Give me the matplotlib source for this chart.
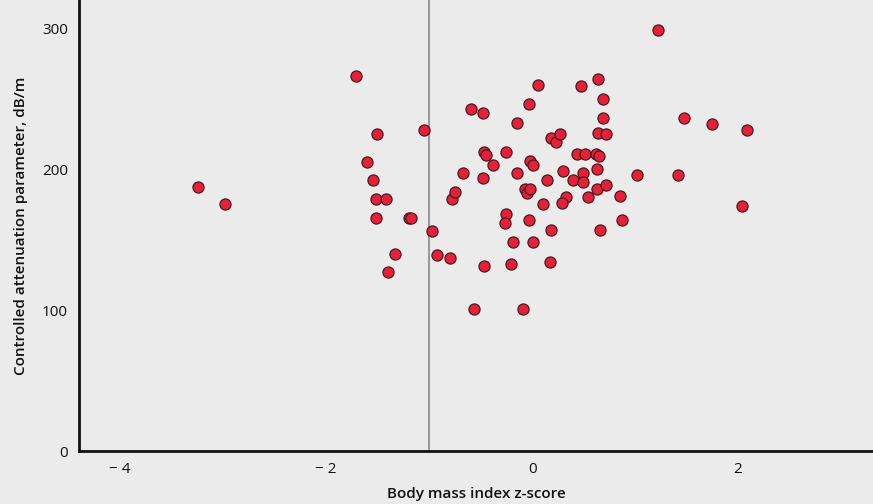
import numpy as np
import matplotlib.pyplot as plt

plt.rcParams['font.family'] = ['Open Sans', 'DejaVu Sans']

# Body mass index z-score
bmi_z = [-3.24, -2.98, -1.71, -1.51, -1.05, -1.60, -1.55, -1.52, -1.42, -1.52,
         -1.20, -1.18, -0.97, -1.33, -1.40, -0.92, -0.80, -0.78, -0.75, -0.67,
         -0.59, -0.48, -0.47, -0.45, -0.48, -0.38, -0.47, -0.56, -0.25, -0.25,
         -0.26, -0.19, -0.21, -0.15, -0.15, -0.09, -0.03, 0.06, -0.07, -0.05,
         -0.02, -0.02, 0.01, -0.03, 0.01, 0.11, 0.14, 0.18, 0.17, 0.18,
         0.23, 0.27, 0.30, 0.33, 0.29, 0.44, 0.51, 0.47, 0.40, 0.49,
         0.49, 0.54, 0.62, 0.65, 0.64, 0.69, 0.69, 0.64, 0.72, 0.63,
         0.63, 0.72, 0.66, 0.85, 0.87, 1.02, 1.22, 1.42, 1.47, 1.75,
         2.09, 2.04]

# Controlled attenuation parameter, dB/m
cap = [187, 175, 266, 225, 228, 205, 192, 179, 179, 165,
       165, 165, 156, 140, 127, 139, 137, 179, 184, 197,
       243, 240, 212, 210, 194, 203, 131, 101, 212, 168,
       162, 148, 133, 197, 233, 101, 246, 260, 186, 183,
       186, 206, 203, 164, 148, 175, 192, 157, 134, 222,
       219, 225, 199, 180, 176, 211, 211, 259, 192, 197,
       191, 180, 211, 209, 264, 250, 236, 226, 225, 200,
       186, 189, 157, 181, 164, 196, 299, 196, 236, 232,
       228, 174]

xticks = [-4, -2, 0, 2]
xtick_labels = ['\u2212 4', '\u2212 2', '0', '2']
yticks = [0, 100, 200, 300]

bg = '#ebebeb'
fig = plt.figure(figsize=(8.73, 5.04), dpi=100, facecolor=bg)
ax = fig.add_axes([0.0905, 0.105, 0.9095, 0.895], facecolor=bg)

ax.axvline(-1, color='#9a9a9a', lw=1.5, zorder=1)
ax.scatter(bmi_z, cap, s=64, facecolor='#e5213a', edgecolor='#4a1a1e',
           linewidth=0.9, zorder=3)

ax.set_xlim(-4.40, 3.31)
ax.set_ylim(0, 320)
ax.set_xticks(xticks)
ax.set_xticklabels(xtick_labels)
ax.set_yticks(yticks)

for side in ['top', 'right']:
    ax.spines[side].set_visible(False)
for side in ['left', 'bottom']:
    ax.spines[side].set_linewidth(2)
    ax.spines[side].set_color('#111111')

ax.tick_params(axis='both', length=0, labelsize=11, colors='#111111')
ax.tick_params(axis='x', pad=8)
ax.tick_params(axis='y', pad=8)

ax.set_xlabel('Body mass index z-score', fontsize=11, fontweight='semibold',
              color='#111111', labelpad=7)
ax.set_ylabel('Controlled attenuation parameter, dB/m', fontsize=11,
              fontweight='semibold', color='#111111', labelpad=10)

fig.savefig('out.png', dpi=100, facecolor=bg)
